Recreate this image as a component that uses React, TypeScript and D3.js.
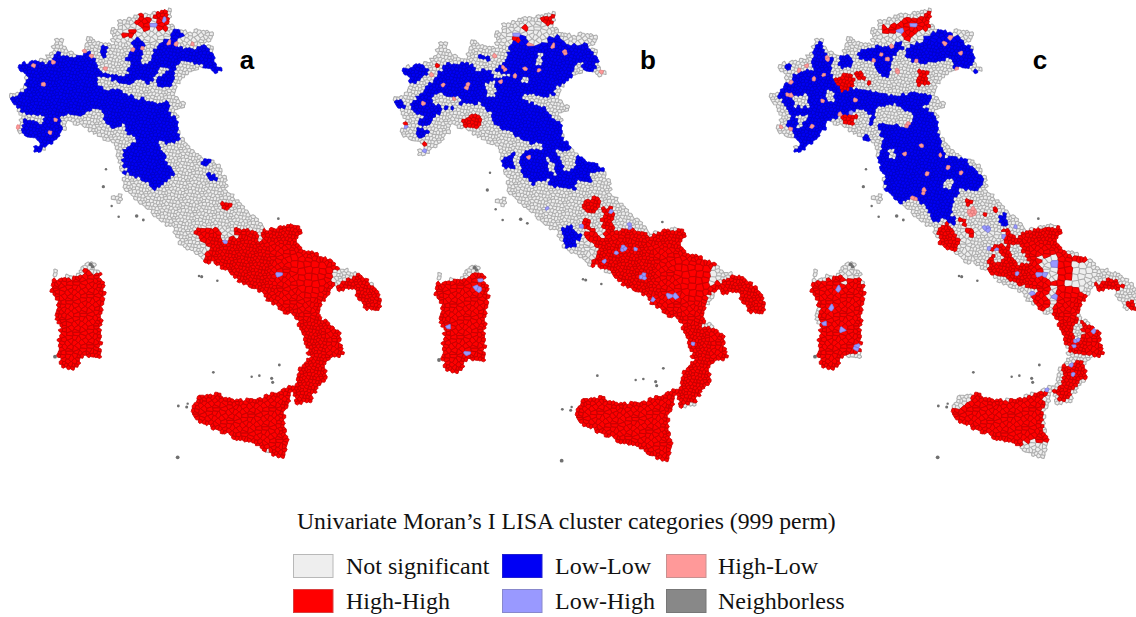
import React, { useMemo } from "react";
import * as d3 from "d3";

type Pt = [number, number];
type Dot = [number, number, number];

// Map units: one unit is a third of a pixel; y counted from the top of the picture.
const south = (pts: number[][]): Pt[] => pts.map(([x, y]) => [x, y + 660] as Pt);

const mainlandOutline: Pt[] = [
  [45,200],[60,190],[100,185],[135,175],[155,150],[160,130],[185,110],[190,140],[215,160],[240,170],[255,150],[258,110],[275,105],[285,130],[320,125],[340,135],[335,100],[325,90],[355,85],[358,60],[385,55],[405,50],[420,40],[460,40],[500,27],[512,30],[505,60],[520,85],[560,95],[600,90],[642,95],[635,115],[610,130],[640,135],[642,165],[645,190],[664,208],[655,218],[625,208],[600,203],[570,218],[540,243],[527,260],[527,290],[550,305],[547,322],[522,328],[532,350],[537,400],[562,430],[602,470],[650,490],[677,535],[682,570],[722,610],[762,650],[800,688],
  ...south([[800,30],[880,12],[905,30],[887,65],[902,85],[1002,123],[1017,143],[1082,163],[1112,188],[1141,225],[1137,275],[1100,268],[1060,208],[1010,208],[1002,197],[962,252],[952,285],[987,313],[1022,338],[1030,402],[977,422],[977,472],[942,522],[932,548],[888,548],[883,510],[898,445],[928,410],[913,352],[883,282],[858,278],[798,242],[793,222],[743,202],[708,178],[648,128],[608,122],[590,105],[540,70],[520,25],[490,5]]),
  [480,665],[440,620],[395,590],[372,570],[372,530],[357,490],[345,432],[300,410],[262,385],[208,365],[165,425],[110,463],[103,445],[122,430],[108,412],[58,402],[52,380],[68,350],[48,322],[28,290],[52,275],[83,250],[68,220],
];
const sardiniaOutline: Pt[] = south([[162,152],[177,152],[168,180],[190,170],[230,165],[250,140],[270,122],[297,155],[307,180],[317,230],[303,290],[303,360],[298,418],[245,408],[235,438],[205,450],[178,432],[173,370],[183,315],[168,300],[173,240],[153,215],[158,180]]);
const sicilyOutline: Pt[] = south([[572,565],[600,528],[650,518],[700,543],[780,533],[820,518],[883,495],[853,580],[853,630],[868,665],[848,713],[800,698],[770,673],[720,663],[640,623],[590,603],[570,585]]);
const elbaOutline: Pt[] = [[336,590],[366,585],[370,606],[340,604]];
const landOutlines: Pt[][] = [mainlandOutline, sardiniaOutline, sicilyOutline, elbaOutline];

// Where municipalities are larger, only part of the seed lattice is kept.
const fineCellZones: Pt[][] = [
  south([[620,40],[800,60],[830,220],[720,190],[640,120]]),
  south([[885,300],[975,300],[980,520],[890,540]]),
];
const mediumCellZones: Pt[][] = [
  south([[140,120],[330,120],[330,470],[140,470]]),
  south([[560,500],[900,480],[890,730],[560,730]]),
  south([[600,10],[1000,110],[1050,420],[870,560],[860,300],[700,190],[600,130]]),
  [[320,30],[650,30],[650,130],[320,130]],
];
const largeCellZones: Pt[][] = [
  south([[860,95],[1000,130],[960,235],[900,215]]),
];
const seedJitter: Pt[] = [[.21,-.13],[-.27,.18],[.09,.29],[-.12,-.24],[.3,.06],[-.2,.26],[.14,-.3],[-.06,.11],[.25,.22],[-.29,-.08],[.03,-.17],[.18,.3],[-.24,-.28],[.28,-.21],[-.1,.02],[.07,.16]];
const coastProbes: Pt[] = [[1,0],[-1,0],[0,1],[0,-1],[.7,.7],[-.7,.7],[.7,-.7],[-.7,-.7]];

const neighborlessIslands: Dot[] = [
  [310,560,2.2],[410,648,2.6],[430,660,1.5],[318,508,1],[335,618,1],[356,650,1.1],[835,656,1.4],
  [605,830,2],[597,828,1],[652,842,1.1],[640,1117,1.4],[815,1135,2],[818,1147,2],[838,1095,1.5],[755,1130,1],[778,1127,1.2],[535,1218,1.5],[560,1221,1.8],[563,1211,.9],[533,1372,3],[165,1070,3],[272,793,3],[278,800,2.6],
];

// Panel a
const aLowLow: Pt[][] = [
  [[45,200],[60,185],[100,180],[140,195],[170,155],[220,175],[250,165],[270,155],[300,210],[340,225],[380,230],[390,190],[380,180],[410,110],[430,125],[425,190],[450,190],[475,125],[510,120],[515,85],[550,100],[530,135],[560,150],[620,135],[640,170],[665,208],[650,218],[620,205],[600,190],[540,180],[525,210],[510,260],[475,260],[470,235],[510,210],[480,195],[460,240],[440,255],[420,230],[390,260],[350,245],[310,225],[295,240],[350,270],[400,290],[490,310],[510,345],[530,355],[537,420],[500,430],[470,420],[480,450],[525,520],[490,555],[465,570],[450,550],[395,525],[365,490],[375,450],[420,420],[385,400],[370,375],[330,385],[310,345],[300,320],[270,330],[240,345],[210,345],[175,350],[190,385],[170,420],[130,445],[110,463],[103,440],[120,420],[100,415],[60,405],[70,360],[110,360],[130,345],[90,345],[75,340],[50,322],[35,310],[40,290],[75,270],[85,240],[70,215]],
  [[305,140],[322,140],[320,170],[305,170]],[[607,475],[628,475],[628,497],[607,497]],[[618,522],[640,522],[652,542],[620,540]],[[643,488],[653,488],[653,497],[643,497]],[[372,515],[380,515],[380,528],[372,528]],[[490,305],[510,305],[505,325],[490,320]],
];
const aHighHigh: Pt[][] = [
  [[408,70],[420,42],[445,55],[450,85],[430,95]],[[460,45],[500,27],[507,55],[495,98],[480,85],[475,65]],[[375,105],[400,85],[412,100],[390,115]],[[652,603],[668,608],[692,615],[692,630],[672,625]],
  south([[580,30],[630,18],[665,30],[650,60],[690,55],[720,60],[705,18],[770,40],[780,75],[785,30],[880,8],[910,30],[890,65],[905,82],[1005,122],[1015,145],[1008,160],[992,150],[1004,197],[1080,160],[1150,225],[1145,280],[1100,270],[1060,212],[1010,212],[965,252],[955,285],[990,310],[1030,335],[1035,405],[980,425],[980,475],[945,525],[935,552],[885,552],[880,510],[895,445],[925,410],[910,352],[880,285],[858,282],[795,245],[790,222],[745,205],[710,180],[650,130],[610,125],[630,80],[600,60]]),
  south([[150,175],[235,172],[250,160],[305,155],[345,200],[345,460],[140,460]]),
  south([[560,510],[895,480],[895,730],[560,730]]),
  south([[692,185],[706,185],[706,193],[692,193]]),south([[255,145],[266,145],[266,153],[255,153]]),south([[800,462],[810,462],[810,470],[800,470]]),
];
const aNotSignificant: Pt[][] = [
  [[290,228],[320,240],[345,270],[310,270],[290,250]],[[100,345],[135,345],[125,372],[105,370]],
  south([[990,150],[1008,150],[1008,167],[990,167]]),south([[735,195],[750,195],[750,212],[735,212]]),south([[800,690],[815,700],[800,730],[785,700]]),
];
const aHighLow: Dot[] = [[53,383,6],[70,232,6],[133,258,6],[170,362,4],[145,398,5],[210,376,6],[225,378,7],[240,381,6],[510,125,7],[525,132,6],[400,155,6],[428,143,5],[575,127,6],[255,155,5],[275,165,6],[155,185,4],[98,192,4],[312,205,4]];
const aLowHigh: Dot[] = [[462,75,6],[488,65,6],[675,720,5],[830,818,6]];

// Panel b (shifted by panel offset)
const bLowLow: Pt[][] = [
  [[55,210],[90,200],[125,190],[145,215],[125,240],[100,250],[70,235]],
  [[90,315],[130,275],[175,225],[195,190],[240,190],[260,185],[290,210],[340,210],[375,185],[395,135],[430,95],[440,130],[490,135],[530,100],[560,130],[620,135],[652,180],[640,218],[610,220],[590,190],[570,240],[530,260],[520,285],[480,290],[450,280],[420,285],[430,300],[490,320],[520,355],[540,365],[545,410],[575,440],[560,460],[600,450],[625,480],[665,490],[670,515],[630,520],[635,545],[590,545],[585,570],[510,560],[505,535],[460,555],[425,525],[420,470],[450,450],[490,450],[490,430],[450,430],[420,420],[395,400],[340,370],[335,345],[300,310],[250,310],[230,325],[195,325],[170,350],[130,380],[110,375],[130,350],[100,330]],
  [[45,310],[60,295],[75,320],[60,335]],[[105,390],[130,385],[150,395],[125,415],[110,410]],[[155,450],[180,435],[175,455]],[[360,480],[400,460],[400,505],[375,505]],[[285,170],[330,165],[325,180]],
  south([[548,30],[565,15],[585,30],[605,50],[575,88],[548,75]]),
];
const bNotSignificant: Pt[][] = [
  [[310,245],[345,245],[350,290],[320,285]],[[160,280],[240,290],[240,322],[190,322],[160,310]],[[530,450],[590,450],[585,510],[550,510]],[[470,155],[492,155],[490,195],[470,190]],[[420,228],[445,228],[445,250],[420,250]],[[340,208],[395,225],[365,235],[335,225]],[[590,190],[610,190],[605,225],[595,225]],[[500,470],[525,490],[525,530],[505,510]],
];
const bHighHigh: Pt[][] = [
  [[250,355],[285,338],[305,365],[280,392],[250,375]],[[485,50],[520,45],[515,70],[490,70]],[[398,120],[420,110],[420,125],[405,132]],[[430,85],[445,75],[440,92]],[[605,600],[650,590],[665,605],[640,640],[615,635]],[[668,625],[700,620],[702,700],[665,690]],[[605,665],[635,660],[625,690]],[[165,195],[180,195],[180,205]],[[75,365],[83,365],[83,375]],[[130,430],[142,432],[140,442]],
  south([[610,45],[640,25],[680,70],[670,15],[690,0],[700,40],[740,25],[790,40],[815,50],[860,30],[920,30],[905,70],[910,88],[1005,130],[980,170],[990,215],[1000,195],[1060,170],[1100,175],[1165,240],[1155,295],[1105,275],[1070,228],[1010,212],[985,225],[978,280],[968,320],[1045,342],[1050,410],[990,432],[990,482],[952,545],[895,560],[885,510],[900,450],[935,420],[920,355],[885,295],[860,290],[805,255],[795,228],[755,210],[710,198],[690,155],[630,135],[660,85]]),
  south([[160,190],[240,180],[275,160],[345,170],[345,475],[145,475]]),
  south([[570,520],[905,490],[905,740],[570,740]]),
  south([[605,0],[635,0],[630,25],[610,25]]),
];
const bHighLow: Dot[] = [[262,258,8],[130,308,8],[372,205,8],[447,473,8],[457,133,7],[552,155,7],[665,220,6],[440,208,6],[520,135,6],[350,170,5],[155,230,5],[408,228,4],[473,208,4],[365,240,4],[220,292,3],[190,258,3]];
const bLowHigh: Dot[] = [[295,840,8],[292,855,6],[300,870,5],[210,980,6],[258,1062,5],[940,1030,7],[788,828,8],[670,785,6],[730,745,7],[770,752,5],[712,762,6],[890,893,5],[860,885,3],[695,632,6],[605,680,7],[500,625,5],[750,680,7],[405,105,5],[75,380,4],[140,450,4],[820,905,3]];

// Panel c
const cLowLow: Pt[][] = [
  [[100,225],[160,210],[160,140],[185,118],[195,160],[215,175],[210,215],[230,260],[300,270],[400,290],[450,280],[522,285],[495,325],[525,345],[530,395],[545,430],[555,470],[620,480],[678,545],[650,570],[600,570],[585,590],[575,640],[520,672],[500,625],[460,590],[420,612],[378,575],[375,520],[350,490],[370,430],[355,370],[395,375],[420,355],[380,330],[350,320],[340,372],[320,380],[310,345],[325,335],[300,325],[270,335],[240,345],[220,355],[205,390],[270,398],[190,398],[160,440],[115,467],[103,450],[125,430],[95,395],[85,385],[90,350],[75,310],[52,290]],
  [[293,155],[340,140],[395,135],[425,120],[430,145],[395,175],[390,232],[360,225],[345,190],[300,180]],
  [[235,175],[270,160],[275,200],[240,205]],
  [[440,145],[480,130],[510,100],[550,90],[590,110],[640,150],[640,190],[620,212],[585,215],[570,175],[520,185],[470,190],[440,170]],
  [[640,205],[660,210],[655,224],[645,215]],[[305,405],[332,405],[332,432],[310,432]],[[710,650],[735,640],[742,678],[725,678]],[[555,650],[585,650],[590,670],[565,670]],[[75,195],[92,195],[85,210]],
];
const cNotSignificant: Pt[][] = [
  [[95,282],[145,285],[145,325],[105,320]],[[108,345],[140,345],[125,390],[110,385]],[[198,270],[225,275],[225,305],[205,305]],[[350,325],[400,310],[465,350],[445,385],[395,370]],[[385,445],[405,445],[405,475],[385,475]],[[550,535],[580,540],[580,565],[550,565]],[[300,340],[335,340],[325,378],[305,370]],[[485,305],[510,315],[495,325]],
];
const cHighHigh: Pt[][] = [
  [[355,85],[410,70],[430,50],[475,50],[510,35],[522,70],[490,95],[460,95],[440,122],[420,100],[380,100]],
  [[225,235],[270,215],[285,240],[270,272],[240,275]],[[280,215],[315,215],[315,235],[290,240]],[[245,345],[295,345],[275,375],[255,375]],[[478,205],[505,215],[505,250],[470,258]],[[618,600],[640,603],[635,615],[620,615]],[[598,655],[625,655],[610,675]],[[703,620],[718,630],[705,635]],[[665,630],[685,640],[675,655]],[[630,915],[645,915],[635,930]],[[320,240],[335,240],[335,252]],
  south([[530,30],[560,10],[592,45],[590,90],[585,110],[540,72]]),
  south([[685,130],[700,70],[740,80],[730,20],[770,50],[800,30],[910,20],[890,70],[925,100],[990,120],[945,130],[940,165],[910,190],[978,225],[950,290],[1030,345],[1032,405],[985,410],[930,398],[912,350],[878,280],[890,195],[860,210],[840,280],[815,230],[830,210],[800,200],[770,190],[720,165],[685,160]]),
  south([[1005,195],[1050,175],[1095,195],[1060,218],[1010,212]]),south([[1100,245],[1120,238],[1135,275],[1105,272]]),south([[820,215],[860,210],[868,250],[840,278]]),
  south([[905,440],[970,418],[978,470],[935,510],[940,530],[900,548],[883,515],[910,480]]),
  south([[568,570],[625,550],[650,515],[730,540],[780,535],[862,510],[845,570],[850,630],[868,665],[815,660],[770,680],[720,665],[640,625],[590,608]]),
  south([[150,190],[240,170],[270,180],[300,170],[322,230],[303,290],[303,398],[250,403],[235,442],[200,452],[175,425],[170,360],[183,310],[173,240],[150,212]]),
  south([[625,30],[650,30],[645,50],[628,50]]),
];
const cNotSignificantSouth: Pt[][] = [
  south([[745,75],[775,70],[810,130],[770,135]]),
  south([[840,110],[880,105],[905,150],[880,190],[845,170]]),
  south([[250,165],[270,165],[270,190],[252,190]]),
  south([[700,92],[720,90],[735,120],[705,125]]),
  south([[940,320],[960,300],[970,340],[945,360]]),
];
const cHighLow: Dot[] = [[640,635,14],[445,372,10],[488,575,8],[462,595,8],[438,465,7],[568,500,7],[480,435,6],[415,210,8],[555,130,7],[600,160,6],[595,205,6],[365,160,5],[345,180,5],[395,140,5],[70,240,6],[90,250,6],[78,280,6],[95,282,5],[65,382,6],[95,392,5],[155,375,4],[200,175,4],[135,197,5],[120,215,4],[160,240,4],[185,300,4],[240,340,4],[500,525,4],[600,520,4],[545,465,3],[380,180,4],[470,185,4],[575,112,4],[290,300,4],[190,220,3]];
const cLowHigh: Dot[] = [[232,873,10],[215,920,10],[198,970,8],[250,987,6],[292,1042,7],[770,680,6],[735,705,7],[880,790,7],[838,825,6],[858,820,6],[818,878,6],[890,885,5],[768,825,5],[710,745,5],[950,1020,7],[945,1040,5],[1005,995,4],[938,1095,5],[942,1118,5],[862,1172,4],[690,740,4],[270,335,8],[455,72,5],[425,95,5],[680,685,7]];

const panelLabels = ["a", "b", "c"];
const panelLetterX = [247, 648, 1040];
const panelOffsetX = [0, 384, 760];
const panelOffsetY = [0, 3.33, 0];
const panelShift: Pt[] = [[0, 0], [-12, -10], [0, 0]];

const legendTitle = "Univariate Moran\u2019s I LISA cluster categories (999 perm)";
const legendRows = [
  [{ k: "NS", t: "Not significant" }, { k: "LL", t: "Low-Low" }, { k: "HL", t: "High-Low" }],
  [{ k: "HH", t: "High-High" }, { k: "LH", t: "Low-High" }, { k: "NB", t: "Neighborless" }],
];
const fills: Record<string, string> = { NS: "#eeeeee", HH: "#ff0000", LL: "#0000f5", HL: "#ff9999", LH: "#9999ff", NB: "#888888" };
const cellStrokes: Record<string, string> = { NS: "#aeaeae", HH: "#c80000", LL: "#0000c8", HL: "#e07a7a", LH: "#7a7ae0" };
const cellWidths: Record<string, number> = { NS: 1.1, HH: 0.85, LL: 0.7, HL: 0.7, LH: 0.7 };
const swatchStrokes: Record<string, string> = { NS: "#b8b8b8", HH: "#d84040", LL: "#2020d0", HL: "#c89090", LH: "#8888cc", NB: "#777777" };
const paintOrder = ["NS", "HH", "LL", "LH", "HL"];

type Layer = { k: string; polys: Pt[][] };
const panelLayers: Layer[][] = [
  [{ k: "LL", polys: aLowLow }, { k: "HH", polys: aHighHigh }, { k: "NS", polys: aNotSignificant }],
  [{ k: "LL", polys: bLowLow }, { k: "NS", polys: bNotSignificant }, { k: "HH", polys: bHighHigh }],
  [{ k: "LL", polys: cLowLow }, { k: "NS", polys: cNotSignificant }, { k: "HH", polys: cHighHigh }, { k: "NS", polys: cNotSignificantSouth }],
];
const panelDots: { k: string; dots: Dot[] }[][] = [
  [{ k: "LH", dots: aLowHigh }, { k: "HL", dots: aHighLow }],
  [{ k: "LH", dots: bLowHigh }, { k: "HL", dots: bHighLow }],
  [{ k: "LH", dots: cLowHigh }, { k: "HL", dots: cHighLow }],
];

const inAny = (polys: Pt[][], p: Pt) => polys.some((q) => d3.polygonContains(q, p));

function buildMesh() {
  const step = 10.5;
  const seeds: Pt[] = [];
  const landIdx: number[] = [];
  for (let j = -3; j < 160; j++) {
    for (let i = -3; i < 122; i++) {
      const jit = seedJitter[(i * 7 + j * 13 + 1600) % seedJitter.length];
      const p: Pt = [(i + (j % 2 ? 0.5 : 0) + jit[0]) * step, (j * 0.9 + jit[1]) * step];
      if (inAny(landOutlines, p)) {
        const nearCoast = coastProbes.some(([a, b]) => !inAny(landOutlines, [p[0] + a * step * 1.3, p[1] + b * step * 1.3]));
        if (!nearCoast && !inAny(fineCellZones, p)) {
          if (inAny(largeCellZones, p)) {
            if (i % 2 || j % 2) continue;
          } else if (inAny(mediumCellZones, p)) {
            if ((i + j) % 2) continue;
          }
        }
        landIdx.push(seeds.length);
      }
      seeds.push(p);
    }
  }
  const delaunay = d3.Delaunay.from(seeds);
  const voronoi = delaunay.voronoi([-100, -100, 1300, 1600]);
  return { seeds, landIdx, delaunay, voronoi };
}

function classify(mesh: ReturnType<typeof buildMesh>, panel: number) {
  const { seeds, landIdx, delaunay } = mesh;
  const isLand = new Set(landIdx);
  const cat = new Map<number, string>();
  landIdx.forEach((i) => cat.set(i, "NS"));
  const [sx, sy] = panelShift[panel];
  for (const layer of panelLayers[panel]) {
    for (const poly of layer.polys) {
      const q = poly.map(([x, y]) => [x + sx, y + sy] as Pt);
      for (const i of landIdx) if (d3.polygonContains(q, seeds[i])) cat.set(i, layer.k);
      const c = d3.polygonCentroid(q);
      const f = delaunay.find(c[0], c[1]);
      if (isLand.has(f) && Math.abs(d3.polygonArea(q)) < 900) cat.set(f, layer.k);
    }
  }
  for (const group of panelDots[panel]) {
    for (const [x, y, r] of group.dots) {
      const ux = x + sx, uy = y + sy;
      const f = delaunay.find(ux, uy);
      if (isLand.has(f)) cat.set(f, group.k);
      for (const i of landIdx) {
        if (Math.hypot(seeds[i][0] - ux, seeds[i][1] - uy) < r * 0.9) cat.set(i, group.k);
      }
    }
  }
  return cat;
}

function App() {
  const panels = useMemo(() => {
    const mesh = buildMesh();
    const line = d3.line();
    return panelLabels.map((label, p) => {
      const x = d3.scaleLinear().domain([0, 3]).range([panelOffsetX[p], panelOffsetX[p] + 1]);
      const y = d3.scaleLinear().domain([0, 3]).range([panelOffsetY[p], panelOffsetY[p] + 1]);
      const cat = classify(mesh, p);
      const parts: Record<string, string[]> = {};
      cat.forEach((k, i) => {
        const poly = mesh.voronoi.cellPolygon(i);
        if (!poly) return;
        const d = line(poly.map(([a, b]: number[]) => [x(a), y(b)] as [number, number]));
        (parts[k] = parts[k] || []).push(d + "Z");
      });
      const islands = neighborlessIslands.map(([a, b, r]) => ({ cx: x(a), cy: y(b), r: x(r) - x(0) + 0.9 }));
      return { label, parts, islands, letterX: panelLetterX[p] };
    });
  }, []);

  const swatchX = [293, 502, 666];
  const labelX = [346, 555, 718];
  const rowTop = [554, 589];
  const rowBase = [574, 609];

  return (
    <svg width={1136} height={617} viewBox="0 0 1136 617" style={{ position: "absolute", left: 0, top: 0, background: "#fff" }}>
      <defs>
        <filter id="soft" x="0" y="0" width="100%" height="100%">
          <feGaussianBlur stdDeviation="0.35" />
        </filter>
      </defs>
      <g filter="url(#soft)">
        {panels.map((pn) => (
          <g key={pn.label}>
            {paintOrder.map((k) =>
              pn.parts[k] ? (
                <path key={k} d={pn.parts[k].join("")} fill={fills[k]} stroke={cellStrokes[k]} strokeWidth={cellWidths[k]} strokeLinejoin="round" />
              ) : null
            )}
            {pn.islands.map((c, i) => (
              <circle key={i} cx={c.cx} cy={c.cy} r={c.r} fill="#707070" />
            ))}
          </g>
        ))}
      </g>
      {panels.map((pn) => (
        <text key={pn.label} x={pn.letterX} y={69} textAnchor="middle" fontFamily="'Liberation Sans', Arial, sans-serif" fontWeight="bold" fontSize={26} fill="#000">
          {pn.label}
        </text>
      ))}
      <text x={297} y={529} fontFamily="'Liberation Serif', serif" fontSize={23.7} fill="#111">{legendTitle}</text>
      {legendRows.map((row, r) =>
        row.map((item, c) => (
          <g key={item.k}>
            <rect x={swatchX[c] + 0.5} y={rowTop[r] + 0.5} width={39.5} height={23} fill={fills[item.k]} stroke={swatchStrokes[item.k]} strokeWidth={1} />
            <text x={labelX[c]} y={rowBase[r]} fontFamily="'Liberation Serif', serif" fontSize={24} fill="#111">{item.t}</text>
          </g>
        ))
      )}
    </svg>
  );
}

export default App;
